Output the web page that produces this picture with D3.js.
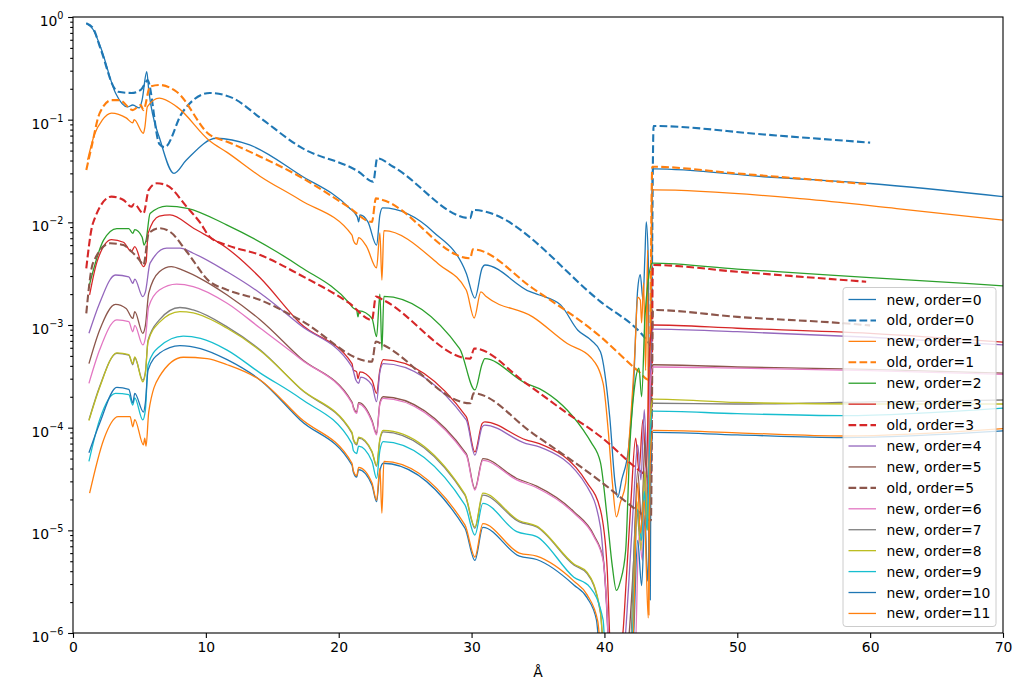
<!DOCTYPE html>
<html>
<head>
<meta charset="utf-8">
<script src="https://cdn.jsdelivr.net/npm/d3@7"></script>
<style>
  body { margin: 0; background: #fff; }
  text { font-family: "DejaVu Sans", sans-serif; }
</style>
</head>
<body>
<script>
// data: [wavelength (Å), value]
var new0 = [[1.0,0.868],[1.5,0.76],[2.1,0.5],[3.2,0.182],[4.1,0.133],[4.5,0.139],[5.0,0.13],[5.2,0.155],[5.55,0.293],[5.7,0.194],[6.6,0.061],[7.6,0.030],[8.5,0.040],[10.8,0.0659],[13.3,0.0567],[17.1,0.0289],[20.8,0.0138],[21.4,0.0113],[21.5,0.0101],[21.6,0.0118],[22.2,0.0101],[22.85,0.0060],[23.1,0.0118],[23.3,0.0138],[27.1,0.0081],[29.6,0.0032],[30.25,0.00183],[30.8,0.0036],[31.0,0.00384],[34.4,0.00211],[35.1,0.00196],[36.7,0.00157],[38.0,8.9e-4],[39.0,7.1e-4],[39.7,5.5e-4],[40.4,1.27e-4],[40.8,2.9e-5],[41.0,2.1e-5],[41.3,3.1e-5],[41.8,6.1e-5],[42.2,2.7e-4],[42.5,2.2e-3],[42.7,3.1e-3],[42.9,1.75e-3],[43.05,4.8e-3],[43.15,0.0101],[43.3,4.3e-3],[43.45,2.1e-6],[43.6,0.031],[43.75,0.0331],[52,0.0278],[60,0.0239],[70,0.0178]];
var old0 = [[1.0,0.868],[1.5,0.78],[2.1,0.48],[3.2,0.195],[3.4,0.187],[4.4,0.182],[5.1,0.195],[5.5,0.234],[5.6,0.243],[6.5,0.058],[6.9,0.054],[8.2,0.116],[10.3,0.182],[12,0.163],[14.1,0.104],[17.1,0.0542],[21.5,0.0311],[22.6,0.0249],[22.9,0.042],[24.1,0.0348],[29.9,0.011],[30.1,0.0132],[39.7,0.00169],[43.2,7.1e-4],[43.5,6.3e-4],[43.7,0.0868],[52,0.0717],[60,0.0597]];
var new1 = [[1.1,0.0405],[1.6,0.071],[2.2,0.099],[2.9,0.116],[4.0,0.104],[4.5,0.093],[4.6,0.1],[5.3,0.0736],[5.4,0.083],[5.6,0.134],[6.5,0.162],[7.8,0.134],[10.3,0.062],[11.6,0.048],[14.1,0.028],[17.1,0.0165],[21.0,7.5e-3],[21.1,6.7e-3],[21.35,6.1e-3],[21.5,7.1e-3],[22.1,5.8e-3],[22.85,3.6e-3],[23.1,7.9e-3],[23.25,2.74e-3],[23.4,8.3e-3],[27.6,3.84e-3],[29.6,2.19e-3],[30.2,1.17e-3],[30.7,2.1e-3],[31.1,1.89e-3],[34.6,1.2e-3],[37.2,6.6e-4],[39.0,4.8e-4],[39.9,2.7e-4],[40.3,8.9e-5],[40.6,2.9e-5],[40.9,1.35e-5],[41.2,1.87e-5],[41.6,2.9e-5],[41.9,8.9e-5],[42.3,5.7e-4],[42.5,1.87e-3],[42.7,1.75e-3],[42.8,1.05e-3],[42.95,2.57e-3],[43.1,3.6e-4],[43.25,5.4e-3],[43.35,1.5e-6],[43.55,0.0185],[43.7,0.0207],[55,0.0169],[62,0.0136],[70,0.0105]];
var old1 = [[1.0,0.0323],[1.4,0.0546],[2.0,0.115],[2.9,0.155],[3.5,0.155],[4.5,0.124],[5.1,0.139],[5.3,0.124],[5.8,0.21],[6.5,0.218],[7.8,0.187],[10.3,0.071],[11.6,0.061],[14.1,0.0436],[17.1,0.0278],[20.7,0.0142],[22.5,0.0101],[22.8,0.0171],[23.3,0.0165],[29.9,4.47e-3],[30.1,5.46e-3],[34.6,2.28e-3],[39.7,7.7e-4],[42.5,3.6e-4],[43.4,2.9e-4],[43.6,0.0348],[50,0.0299],[59.7,0.0236]];
var new2 = [[1.2,2.36e-3],[2.3,6.7e-3],[3.3,8.7e-3],[4.2,8.7e-3],[4.5,7.8e-3],[4.65,8.5e-3],[5.2,7.2e-3],[5.35,6.0e-3],[5.5,6.7e-3],[5.8,0.0122],[7.05,0.0144],[8.6,0.0137],[11.6,9.4e-3],[15.3,5.2e-3],[17.1,3.7e-3],[20.8,1.63e-3],[21.1,1.46e-3],[21.35,1.4e-3],[21.45,1.2e-3],[21.55,1.37e-3],[22.5,1.16e-3],[22.85,7.7e-4],[23.1,2.0e-3],[23.25,5.7e-4],[23.4,1.9e-3],[29.1,5.9e-4],[30.25,2.33e-4],[30.8,4.2e-4],[31.0,4.7e-4],[34.1,2.7e-4],[35.1,2.4e-4],[38.4,9.5e-5],[39.0,7.2e-5],[39.7,4.6e-5],[40.2,1.35e-5],[40.6,4.4e-6],[40.9,2.6e-6],[41.2,3.2e-6],[41.6,6.4e-6],[41.9,6.1e-5],[42.3,2.7e-4],[42.6,3.8e-4],[42.8,2.0e-4],[43.05,1.2e-3],[43.3,2.74e-3],[43.6,4.0e-3],[50,3.5e-3],[60,2.9e-3],[70,2.41e-3]];
var new3 = [[1.25,1.96e-3],[1.8,4.1e-3],[2.9,6.8e-3],[3.8,6.4e-3],[4.4,5.2e-3],[4.65,5.8e-3],[5.3,3.7e-3],[5.5,4.1e-3],[5.65,7.8e-3],[6.5,0.0115],[7.3,0.0118],[9.1,8.7e-3],[11.6,5.6e-3],[14.1,2.87e-3],[17.1,1.04e-3],[21.0,4.2e-4],[21.1,3.65e-4],[21.35,3.5e-4],[21.45,3.0e-4],[21.6,3.5e-4],[22.5,2.9e-4],[22.85,2.16e-4],[23.1,3.65e-4],[23.35,4.6e-4],[29.6,1.28e-4],[30.25,5.8e-5],[30.8,1.1e-4],[31.0,1.14e-4],[34.1,7.6e-5],[35.1,7.0e-5],[38.7,2.9e-5],[39.7,1.58e-5],[40.2,4.4e-6],[40.5,6e-7],[41.3,8e-7],[41.65,3.4e-6],[42.0,1.97e-5],[42.35,7.9e-5],[42.6,3.8e-5],[42.9,1.2e-4],[43.15,3.8e-5],[43.4,5.7e-4],[43.65,1.0e-3],[50,9.3e-4],[60,8.3e-4],[70,6.8e-4]];
var old3 = [[1.0,3.56e-3],[1.5,9.8e-3],[2.9,0.0178],[3.8,0.0165],[4.4,0.0142],[4.6,0.0151],[5.3,0.0122],[5.7,0.0207],[6.3,0.024],[7.05,0.023],[8.55,0.0142],[9.6,9.8e-3],[10.3,7.2e-3],[11.6,6.0e-3],[14.1,4.8e-3],[17.1,3.07e-3],[20.8,1.63e-3],[22.5,1.12e-3],[22.8,1.89e-3],[23.35,1.75e-3],[29.9,4.7e-4],[30.2,5.9e-4],[34.1,2.7e-4],[37.2,1.38e-4],[39.7,8.2e-5],[42.9,3.6e-5],[43.5,3.2e-5],[43.65,3.84e-3],[50,3.3e-3],[59.7,2.64e-3]];
var new4 = [[1.2,8.3e-4],[2.0,1.63e-3],[3.2,3.07e-3],[4.2,2.95e-3],[4.5,2.55e-3],[4.65,2.8e-3],[5.25,1.89e-3],[5.45,2.1e-3],[5.8,4.0e-3],[7.05,5.6e-3],[8.05,5.6e-3],[9.05,5.0e-3],[11.6,3.3e-3],[14.1,2.04e-3],[17.1,1.0e-3],[21.0,3.9e-4],[21.3,2.9e-4],[21.5,2.7e-4],[21.65,3.1e-4],[22.5,2.6e-4],[22.85,1.79e-4],[23.1,3.5e-4],[23.35,4.2e-4],[29.6,1.19e-4],[30.25,5.4e-5],[30.8,1.02e-4],[31.0,1.06e-4],[34.1,7.0e-5],[35.1,6.5e-5],[38.7,2.66e-5],[39.7,1.08e-5],[40.1,2.5e-6],[40.4,6e-7],[41.4,6e-7],[41.8,2.6e-6],[42.2,1.97e-5],[42.5,6.8e-5],[42.75,3.1e-5],[43.0,1.5e-4],[43.25,2.8e-5],[43.5,4.6e-4],[43.65,9.1e-4],[50,8.6e-4],[60,7.6e-4],[70,6.4e-4]];
var new5 = [[1.2,4.2e-4],[2.0,8.9e-4],[3.2,1.59e-3],[4.0,1.45e-3],[4.5,1.16e-3],[4.65,1.35e-3],[5.25,8.3e-4],[5.45,9.9e-4],[5.7,2.04e-3],[6.5,3.3e-3],[7.4,3.7e-3],[8.3,3.4e-3],[9.8,2.74e-3],[11.6,1.96e-3],[14.1,1.12e-3],[17.1,4.8e-4],[21.0,1.78e-4],[21.1,1.6e-4],[21.35,1.42e-4],[21.5,1.75e-4],[22.5,1.18e-4],[22.85,8.8e-5],[23.1,1.75e-4],[23.35,2.0e-4],[29.6,5.6e-5],[30.25,2.55e-5],[30.85,5.0e-5],[33.4,3.2e-5],[34.9,2.7e-5],[37.7,1.52e-5],[39.2,9e-6],[39.9,5.3e-6],[40.2,1.6e-6],[40.35,6e-7],[41.6,6e-7],[42.2,5.1e-6],[42.5,3.8e-5],[42.8,1.2e-5],[43.05,7.5e-5],[43.3,1.97e-5],[43.5,2.9e-4],[43.65,4.1e-4],[50,3.9e-4],[60,3.7e-4],[70,3.4e-4]];
var old5 = [[1.0,1.3e-3],[1.5,4.0e-3],[2.8,6.25e-3],[3.8,6.0e-3],[4.4,5.2e-3],[5.0,4.3e-3],[5.3,3.84e-3],[5.7,7.8e-3],[6.5,8.75e-3],[7.3,8.1e-3],[8.55,5.2e-3],[10.3,2.64e-3],[11.6,2.2e-3],[14.1,1.75e-3],[17.1,1.12e-3],[22.5,4.4e-4],[22.8,6.9e-4],[23.35,6.4e-4],[29.9,1.73e-4],[30.15,2.16e-4],[34.6,8.8e-5],[39.7,3.0e-5],[42.7,1.48e-5],[43.5,1.25e-5],[43.65,1.4e-3],[50,1.2e-3],[58,1.04e-3],[60,9.9e-4]];
var new6 = [[1.2,2.7e-4],[2.0,5.7e-4],[3.3,1.12e-3],[4.2,1.08e-3],[4.5,8.6e-4],[4.65,9.9e-4],[5.25,6.4e-4],[5.45,7.5e-4],[5.7,1.51e-3],[6.5,2.19e-3],[7.8,2.5e-3],[9.05,2.37e-3],[11.6,1.63e-3],[14.1,9.3e-4],[17.1,4.7e-4],[21.0,1.73e-4],[21.1,1.55e-4],[21.35,1.38e-4],[21.5,1.7e-4],[22.5,1.14e-4],[22.85,8.5e-5],[23.1,1.7e-4],[23.35,1.93e-4],[29.6,5.4e-5],[30.25,2.47e-5],[30.85,4.8e-5],[33.4,3.1e-5],[34.9,2.6e-5],[37.7,1.47e-5],[39.2,8.7e-6],[39.9,5.1e-6],[40.2,1.57e-6],[40.35,6e-7],[42.3,6e-7],[42.6,9.4e-6],[42.85,5.1e-6],[43.05,4.1e-5],[43.25,1.35e-5],[43.45,2.6e-4],[43.65,3.9e-4],[50,3.8e-4],[60,3.6e-4],[70,3.3e-4]];
var new7 = [[1.2,1.19e-4],[2.0,2.5e-4],[3.3,5.3e-4],[4.2,5.1e-4],[4.5,4.1e-4],[4.65,4.8e-4],[5.25,2.9e-4],[5.45,3.5e-4],[5.65,7.1e-4],[6.5,1.12e-3],[8.05,1.48e-3],[9.05,1.4e-3],[11.6,9.6e-4],[14.1,5.7e-4],[17.1,2.4e-4],[21.0,8.8e-5],[21.1,7.6e-5],[21.35,6.8e-5],[21.5,7.9e-5],[22.5,5.8e-5],[22.85,4.2e-5],[23.1,7.6e-5],[23.35,9.1e-5],[29.5,2.2e-5],[30.25,1.05e-5],[30.85,2.2e-5],[33.6,1.21e-5],[34.9,1.08e-5],[37.7,4.6e-6],[38.7,3.8e-6],[39.7,1.57e-6],[40.0,6e-7],[41.9,6e-7],[42.4,1.7e-5],[42.7,8.0e-6],[43.0,3.3e-5],[43.2,1.13e-5],[43.45,1.2e-4],[43.65,1.73e-4],[50,1.7e-4],[60,1.78e-4],[70,1.86e-4]];
var new8 = [[1.2,1.17e-4],[2.0,2.45e-4],[3.3,5.35e-4],[4.2,5.15e-4],[4.5,4.2e-4],[4.65,4.9e-4],[5.25,2.8e-4],[5.45,3.4e-4],[5.65,6.9e-4],[6.5,1.06e-3],[8.05,1.35e-3],[9.05,1.31e-3],[11.6,9.3e-4],[14.1,5.6e-4],[17.1,2.42e-4],[21.0,9.0e-5],[21.1,7.8e-5],[21.35,7.0e-5],[21.5,8.1e-5],[22.5,5.9e-5],[22.85,4.3e-5],[23.1,7.8e-5],[23.35,9.4e-5],[29.5,2.25e-5],[30.25,1.08e-5],[30.85,2.3e-5],[33.6,1.24e-5],[34.9,1.1e-5],[37.7,4.7e-6],[38.7,3.9e-6],[39.7,1.6e-6],[40.0,6e-7],[42.0,6e-7],[42.45,1.9e-5],[42.75,6.4e-6],[43.05,3.8e-5],[43.25,1.0e-5],[43.5,1.5e-4],[43.65,1.9e-4],[50,1.76e-4],[60,1.7e-4],[70,1.7e-4]];
var new9 = [[1.2,4.7e-5],[2.0,1.19e-4],[3.2,2.16e-4],[4.2,2.1e-4],[4.5,1.66e-4],[4.65,1.95e-4],[5.25,1.19e-4],[5.45,1.5e-4],[5.65,4.1e-4],[6.5,6.15e-4],[8.3,7.8e-4],[9.6,7.4e-4],[11.6,5.7e-4],[14.1,3.4e-4],[17.1,1.93e-4],[21.0,7.0e-5],[21.1,6.0e-5],[21.35,5.6e-5],[21.5,6.6e-5],[22.5,4.7e-5],[22.85,3.2e-5],[23.1,6.0e-5],[23.35,7.3e-5],[29.5,1.77e-5],[30.25,9.0e-6],[30.85,1.83e-5],[33.4,9.7e-6],[34.9,8.7e-6],[37.7,3.5e-6],[38.9,2.8e-6],[39.9,1.34e-6],[40.1,6e-7],[42.0,6e-7],[42.5,1.6e-5],[42.8,8e-6],[43.0,2.4e-5],[43.2,1.0e-5],[43.45,8.9e-5],[43.65,1.45e-4],[50,1.37e-4],[58,1.31e-4],[70,1.55e-4]];
var new10 = [[1.2,5.7e-5],[2.0,1.1e-4],[3.3,2.47e-4],[4.2,2.36e-4],[4.5,1.74e-4],[4.65,2.16e-4],[5.3,1.42e-4],[5.45,1.77e-4],[5.65,3.65e-4],[6.5,5.3e-4],[8.05,6.3e-4],[9.6,5.9e-4],[11.6,4.6e-4],[14.1,2.9e-4],[17.1,1.19e-4],[21.0,4.3e-5],[21.1,3.7e-5],[21.35,3.3e-5],[21.5,3.9e-5],[22.5,2.77e-5],[22.85,1.9e-5],[23.1,3.8e-5],[23.35,4.5e-5],[29.5,1.05e-5],[30.25,5.1e-6],[30.85,1.07e-5],[33.6,5.6e-6],[34.9,5.2e-6],[37.7,2.94e-6],[38.7,2.2e-6],[39.4,1.34e-6],[39.7,6e-7],[42.1,6e-7],[42.5,8e-6],[42.8,2.9e-6],[43.05,1.4e-5],[43.25,3.2e-6],[43.5,4.8e-5],[43.65,9.0e-5],[50,8.5e-5],[58,8.0e-5],[70,9.3e-5]];
var new11 = [[1.25,2.3e-5],[2.3,7.6e-5],[3.4,1.28e-4],[4.3,1.28e-4],[4.5,1.02e-4],[4.65,1.2e-4],[5.3,6.8e-5],[5.4,7.9e-5],[5.5,6.6e-5],[5.7,1.42e-4],[6.5,3.14e-4],[8.3,4.85e-4],[10.1,4.7e-4],[11.6,4.1e-4],[14.1,2.9e-4],[17.1,1.24e-4],[21.0,4.5e-5],[21.1,3.8e-5],[21.35,3.4e-5],[21.5,4.1e-5],[22.5,2.9e-5],[22.85,1.97e-5],[23.1,4.0e-5],[23.25,1.47e-5],[23.4,4.7e-5],[29.5,1.13e-5],[30.25,5.5e-6],[30.85,1.16e-5],[33.6,6.0e-6],[34.9,5.6e-6],[37.7,3.2e-6],[38.7,2.35e-6],[39.5,1.3e-6],[39.8,6e-7],[42.1,6e-7],[42.5,2.9e-5],[42.7,9.4e-6],[43.0,1.97e-5],[43.15,4.4e-6],[43.3,1.4e-6],[43.45,4.8e-5],[43.65,9.4e-5],[50,8.9e-5],[58,8.3e-5],[70,9.8e-5]];

// plotting order, labels and colours as in the legend
var seriesLabels = ["new, order=0","old, order=0","new, order=1","old, order=1","new, order=2","new, order=3","old, order=3","new, order=4","new, order=5","old, order=5","new, order=6","new, order=7","new, order=8","new, order=9","new, order=10","new, order=11"];
var seriesData = [new0, old0, new1, old1, new2, new3, old3, new4, new5, old5, new6, new7, new8, new9, new10, new11];
var seriesColors = ["#1f77b4","#1f77b4","#ff7f0e","#ff7f0e","#2ca02c","#d62728","#d62728","#9467bd","#8c564b","#8c564b","#e377c2","#7f7f7f","#bcbd22","#17becf","#1f77b4","#ff7f0e"];
var xTicks = [0, 10, 20, 30, 40, 50, 60, 70];
var yExponents = [0, -1, -2, -3, -4, -5, -6];

var width = 1021, height = 691;
var margin = {left: 73, right: 18, top: 17, bottom: 58};

var svg = d3.select("body").append("svg")
    .attr("width", width)
    .attr("height", height);

var xScale = d3.scaleLinear()
    .domain([0, 70])
    .range([margin.left, width - margin.right]);

var yScale = d3.scaleLog()
    .domain([1e-6, 1])
    .range([height - margin.bottom, margin.top]);

svg.append("clipPath").attr("id", "plot")
  .append("rect")
    .attr("x", margin.left).attr("y", margin.top)
    .attr("width", xScale(70) - margin.left)
    .attr("height", yScale(1e-6) - margin.top);

var line = d3.line()
    .x(function (d) { return xScale(d[0]); })
    .y(function (d) { return yScale(d[1]); })
    .curve(d3.curveMonotoneX);

var lines = svg.append("g").attr("clip-path", "url(#plot)");

seriesData.forEach(function (s, i) {
    var dashed = seriesLabels[i].indexOf("old") === 0;
    lines.append("path")
        .attr("d", line(s))
        .attr("fill", "none")
        .attr("stroke", seriesColors[i])
        .attr("stroke-width", dashed ? 2.1 : 1.3)
        .attr("stroke-dasharray", dashed ? "7.7,3.3" : null)
        .attr("stroke-linejoin", "round");
});

// axes
var xAxis = d3.axisBottom(xScale).tickValues(xTicks).tickSize(4.9).tickPadding(4.5);
var xg = svg.append("g")
    .attr("transform", "translate(0," + yScale(1e-6) + ")")
    .call(xAxis);
xg.selectAll("text").attr("font-size", "13.9px").attr("fill", "#000").attr("font-family", "DejaVu Sans");

var minorVals = [];
yExponents.slice(0, -1).forEach(function (e) {
    for (var k = 2; k <= 9; k++) minorVals.push(k * Math.pow(10, e - 1));
});
var yMinor = svg.append("g")
    .attr("transform", "translate(" + margin.left + ",0)")
    .call(d3.axisLeft(yScale).tickValues(minorVals).tickSize(2.8).tickFormat(""));
var yMajor = svg.append("g")
    .attr("transform", "translate(" + margin.left + ",0)")
    .call(d3.axisLeft(yScale).tickValues(yExponents.map(function (e) { return Math.pow(10, e); })).tickSize(4.9).tickFormat(""));

[xg, yMinor, yMajor].forEach(function (g) {
    g.select(".domain").remove();
    g.selectAll(".tick line").attr("stroke", "#000").attr("stroke-width", 1.1);
});

// y tick labels as 10^n
yExponents.forEach(function (e) {
    var t = svg.append("text")
        .attr("x", margin.left - 9.5)
        .attr("y", yScale(Math.pow(10, e)) + 9)
        .attr("text-anchor", "end")
        .attr("font-size", "13.9px")
        .attr("fill", "#000");
    t.append("tspan").text("10");
    t.append("tspan").attr("dy", -7).attr("font-size", "9.7px")
        .text(e === 0 ? "0" : "\u2212" + (-e));
});

// frame
svg.append("rect")
    .attr("x", margin.left).attr("y", margin.top)
    .attr("width", xScale(70) - margin.left)
    .attr("height", yScale(1e-6) - margin.top)
    .attr("fill", "none")
    .attr("stroke", "#000")
    .attr("stroke-width", 1.1);

svg.append("text")
    .attr("x", (xScale(0) + xScale(70)) / 2)
    .attr("y", 677)
    .attr("text-anchor", "middle")
    .attr("font-size", "13.9px")
    .text("Å");

// legend
var lg = svg.append("g").attr("transform", "translate(843,287.5)");
lg.append("rect")
    .attr("width", 153).attr("height", 339)
    .attr("rx", 3).attr("ry", 3)
    .attr("fill", "#fff").attr("fill-opacity", 0.8)
    .attr("stroke", "#cccccc").attr("stroke-width", 1);

seriesLabels.forEach(function (lab, i) {
    var y = 12 + i * 20.93;
    var dashed = lab.indexOf("old") === 0;
    lg.append("line")
        .attr("x1", 5.5).attr("x2", 33)
        .attr("y1", y).attr("y2", y)
        .attr("stroke", seriesColors[i])
        .attr("stroke-width", dashed ? 2.1 : 1.3)
        .attr("stroke-dasharray", dashed ? "7.7,3.3" : null);
    lg.append("text")
        .attr("x", 43.5).attr("y", y + 5)
        .attr("font-size", "13.9px")
        .attr("fill", "#000")
        .text(lab);
});
</script>
</body>
</html>
